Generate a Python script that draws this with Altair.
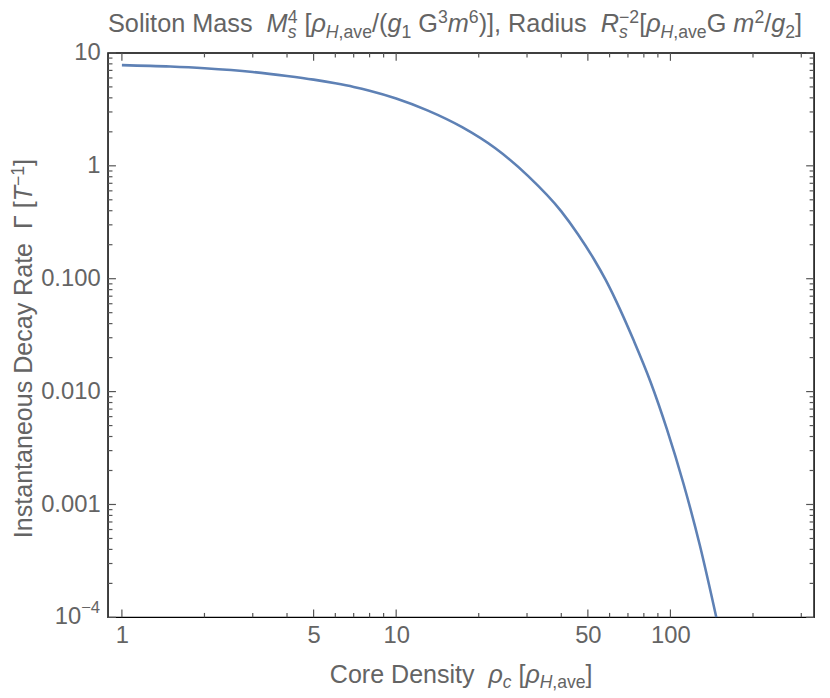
import altair as alt
import pandas as pd

# ---- data ----
rho_c = [1, 1.5, 2, 3, 4, 5, 6, 7, 8, 10, 13, 17.4, 23, 30.3, 40, 46, 52.7, 58,
         63.1, 73.5, 84.5, 97, 111.4, 128, 147]
gamma = [7.8, 7.57, 7.31, 6.78, 6.25, 5.8, 5.38, 5.0, 4.63, 3.95, 3.1, 2.2, 1.43,
         0.81, 0.395, 0.248, 0.148, 0.098, 0.065, 0.0283, 0.0123, 0.00468,
         0.00155, 0.000435, 0.0001]

x_major = [1, 5, 10, 50, 100]
x_minor = [2, 3, 4, 6, 7, 8, 9, 20, 30, 40, 60, 70, 80, 90, 200, 300]
y_major = [10, 1, 0.1, 0.01, 0.001, 0.0001]
y_minor = [k * d for d in [1e-4, 1e-3, 1e-2, 1e-1, 1] for k in range(2, 10)]
x_domain = [0.89, 334]
y_domain = [0.0001, 10]
y_min_label = ("10", "−4")   # label of the lowest y tick: base and exponent

title_segments = [
    ("Soliton Mass  ", "n", False), ("M", "n", True), (("s", "4"), "subsup", True),
    (" [", "n", False), ("ρ", "n", True), ("H", "sub", True), (",ave", "sub", False),
    ("/(", "n", False), ("g", "n", True), ("1", "sub", False), (" G", "n", False),
    ("3", "sup", False), ("m", "n", True), ("6", "sup", False),
    (")], Radius  ", "n", False), ("R", "n", True), (("s", "−2"), "subsup", True),
    ("[", "n", False), ("ρ", "n", True), ("H", "sub", True), (",ave", "sub", False),
    ("G ", "n", False), ("m", "n", True), ("2", "sup", False), ("/", "n", False),
    ("g", "n", True), ("2", "sub", False), ("]", "n", False),
]
xtitle_segments = [
    ("Core Density  ", "n", False), ("ρ", "n", True), ("c", "sub", True),
    (" [", "n", False), ("ρ", "n", True), ("H", "sub", True), (",ave", "sub", False),
    ("]", "n", False),
]
ytitle_segments = [
    ("Instantaneous Decay Rate  ", "n", False), ("Γ", "n", False), (" [", "n", False),
    ("T", "n", True), ("−1", "sup", False), ("]", "n", False),
]

FONT = "Liberation Sans"
TXT = "#646464"
TICK = "#555555"
LABEL_FS = 24
LABEL_PAD = 8
W, H = 713, 570

# approximate Liberation Sans advance widths (per 1000 em)
AW = {' ': 278, ',': 278, '.': 278, '/': 278, '(': 333, ')': 333, '[': 278, ']': 278,
      '−': 584, 'ρ': 568, 'Γ': 552}
for ch in "0123456789":
    AW[ch] = 556
AW.update(dict(zip("ABCDEFGHIJKLMNOPQRSTUVWXYZ",
                   [667, 667, 722, 722, 667, 611, 778, 722, 278, 500, 667, 556, 833,
                    722, 778, 667, 778, 722, 667, 611, 722, 667, 944, 667, 667, 611])))
AW.update(dict(zip("abcdefghijklmnopqrstuvwxyz",
                   [556, 556, 500, 556, 556, 278, 556, 556, 222, 222, 500, 222, 833,
                    556, 556, 556, 556, 333, 500, 278, 556, 500, 722, 500, 500, 500])))


def tw(s, size):
    return sum(AW.get(c, 556) for c in s) / 1000.0 * size


def place(segs, fs, sup_raise=0.36):
    out = []
    pos = [0.0]
    s = fs * 0.7

    def emit(text, size, it, shift, advance=True):
        stripped = text.lstrip(" ")
        lead = tw(text[:len(text) - len(stripped)], size)
        x = pos[0] + lead
        if stripped.strip():
            out.append((stripped.rstrip(" "), size, it, x, shift))
        if advance:
            pos[0] = x + tw(stripped, size)
        return tw(stripped, size)

    for text, kind, it in segs:
        if kind == "n":
            emit(text, fs, it, 0.0)
        elif kind == "sub":
            emit(text, s, it, 0.22 * fs)
        elif kind == "sup":
            emit(text, s, it, -sup_raise * fs)
        else:
            sub, sup = text
            w1 = emit(sub, s, it, 0.22 * fs, advance=False)
            w2 = emit(sup, s, False, -sup_raise * fs, advance=False)
            pos[0] += max(w1, w2)
    return out, pos[0]


one = pd.DataFrame({"k": [0]})


def txt(text, size, xv, yv, italic=False, align="left", baseline="alphabetic", angle=0):
    return alt.Chart(one).mark_text(
        text=text, font=FONT, fontSize=size,
        fontStyle="italic" if italic else "normal", color=TXT,
        align=align, baseline=baseline, angle=angle,
    ).encode(x=alt.value(xv), y=alt.value(yv))


def text_layers(segs, fs, start, base, vertical=False, sup_raise=0.36):
    pieces, total = place(segs, fs, sup_raise)
    layers = []
    for text, size, it, adv, shift in pieces:
        if vertical:
            layers.append(txt(text, size, base + shift, start - adv, it, angle=270))
        else:
            layers.append(txt(text, size, start + adv, base + shift, it))
    return layers


df = pd.DataFrame({"rho": rho_c, "gamma": gamma})
xs = alt.Scale(type="log", domain=x_domain, nice=False)
ys = alt.Scale(type="log", domain=y_domain, nice=False)

common = dict(grid=False, domain=False, title=None, labelFlush=False,
              labelOverlap=False, ticks=False, tickSize=0,
              labelFontSize=LABEL_FS, labelFont=FONT, labelColor=TXT)

x_lab = alt.Axis(orient="bottom", values=x_major, format="~g", labelPadding=6, **common)
y_lab = alt.Axis(orient="left", values=y_major,
                 labelExpr="datum.value >= 1 ? format(datum.value, 'd') : "
                           "(datum.value < 0.0005 ? '' : format(datum.value, '.3f'))",
                 labelPadding=LABEL_PAD, **common)

line = alt.Chart(df).mark_line(color="#5E81B5", strokeWidth=2.6, interpolate="monotone",
                               clip=True).encode(
    x=alt.X("rho:Q", scale=xs, axis=x_lab, title=None),
    y=alt.Y("gamma:Q", scale=ys, axis=y_lab, title=None),
)

TICK_MARK = dict(color=TICK, strokeWidth=1.2)


def xticks(vals, size):
    d = alt.Chart(pd.DataFrame({"v": vals}))
    xe = alt.X("v:Q", scale=xs, axis=x_lab, title=None)
    return [
        d.mark_rule(**TICK_MARK).encode(x=xe, y=alt.value(H - size), y2=alt.value(H)),
        d.mark_rule(**TICK_MARK).encode(x=xe, y=alt.value(0), y2=alt.value(size)),
    ]


def yticks(vals, size):
    d = alt.Chart(pd.DataFrame({"v": vals}))
    ye = alt.Y("v:Q", scale=ys, axis=y_lab, title=None)
    return [
        d.mark_rule(**TICK_MARK).encode(y=ye, x=alt.value(0), x2=alt.value(size)),
        d.mark_rule(**TICK_MARK).encode(y=ye, x=alt.value(W - size), x2=alt.value(W)),
    ]


tick_layers = (xticks(x_major, 8) + xticks(x_minor, 4.5)
               + yticks(y_major, 8) + yticks(y_minor, 4.5))

# lowest y label "10" with a superscript exponent
sup_fs = LABEL_FS * 0.7
sup_w = tw(y_min_label[1], sup_fs)
min_label = [
    txt(y_min_label[0], LABEL_FS, -LABEL_PAD - sup_w, H, align="right", baseline="middle"),
    txt(y_min_label[1], sup_fs, -LABEL_PAD - sup_w, H - 9, align="left", baseline="middle"),
]

texts = (text_layers(title_segments, 25.5, 0, -21)
         + text_layers(xtitle_segments, 25.3, 224, 636)
         + text_layers(ytitle_segments, 25.3, 490, -77, vertical=True, sup_raise=0.3)
         + min_label)

chart = alt.layer(line, *tick_layers, *texts).properties(
    width=W, height=H,
    padding={"left": 101, "top": 42, "right": 8, "bottom": 72},
    autosize=alt.AutoSizeParams(type="none"),
).configure_view(stroke="#000000", strokeWidth=1.5)

chart.save("out.html", embed_options={"renderer": "svg", "actions": False})
